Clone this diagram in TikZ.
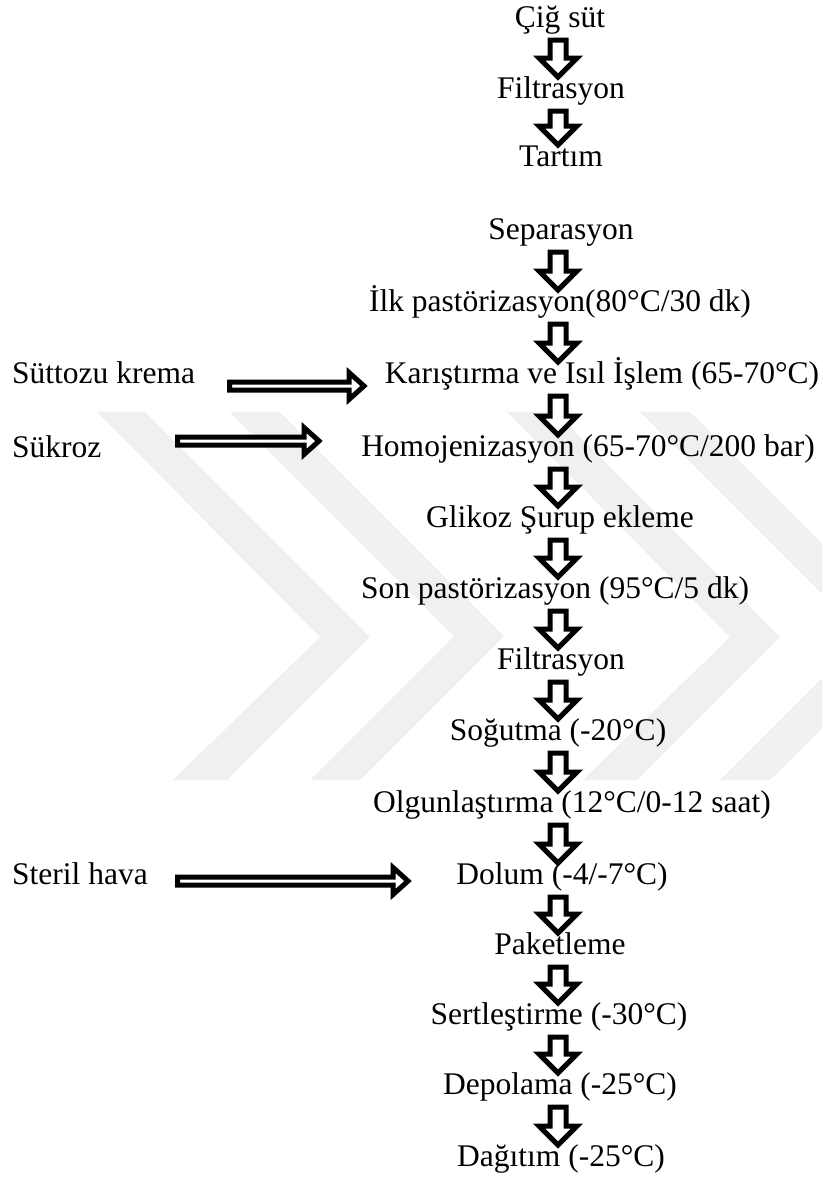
\documentclass[tikz,border=0pt]{standalone}
\usepackage{fontspec}
\setmainfont{Liberation Serif}
\usepackage{tikz}
\usetikzlibrary{calc, positioning}

\definecolor{wmark}{RGB}{240,240,240}

\tikzset{
  proc/.style={anchor=base, inner sep=0pt, font=\fontsize{31.5}{36}\selectfont},
  inp/.style={anchor=base west, inner sep=0pt, font=\fontsize{31.5}{36}\selectfont},
  % blok ok (asagi)
  downarr/.style={draw=black, fill=white, line width=5pt, line join=miter,
    to path={let \p1=(\tikztostart.base), \p2=(\tikztotarget.base), \p3=(axis) in
      (\x3-8pt,\y1-13pt) -- (\x3+8pt,\y1-13pt) -- (\x3+8pt,\y2+40pt)
      -- (\x3+19pt,\y2+40pt) -- (\x3,\y2+21pt) -- (\x3-19pt,\y2+40pt)
      -- (\x3-8pt,\y2+40pt) -- cycle}},
  % cift cizgili ok (saga)
  sidearr/.style={draw=black, fill=white, line width=5pt, line join=miter,
    to path={let \p1=(\tikztostart), \p2=(\tikztotarget) in
      (\x1,\y1+4pt) -- (\x2-15pt,\y1+4pt) -- (\x2-15pt,\y1+13.5pt) -- (\x2,\y1)
      -- (\x2-15pt,\y1-13.5pt) -- (\x2-15pt,\y1-4pt) -- (\x1,\y1-4pt) -- cycle}}
}

\begin{document}
\begin{tikzpicture}[x=1pt, y=-1pt]
    \useasboundingbox (0,0) rectangle (822,1178);

    % 1. Arka plan filigrani
    \begin{scope}
    \clip (0,0) rectangle (822,1178);
    \fill[wmark] (97,412) -- (145,412) -- (370,637) -- (227,780) -- (173,780) -- (320,637) -- cycle;
    \fill[wmark] (230,412) -- (280,412) -- (504,636) -- (360,780) -- (310,780) -- (454,636) -- cycle;
    \fill[wmark] (507,412) -- (555,412) -- (780,637) -- (637,780) -- (583,780) -- (730,637) -- cycle;
    \fill[wmark] (640,412) -- (690,412) -- (914,636) -- (770,780) -- (720,780) -- (864,636) -- cycle;
    \end{scope}

    % 2. Ana akis adimlari
    \coordinate (axis) at (558,0);
    \node[proc] (cig)   at (560,27)   {Çiğ süt};
    \node[proc] (filt1) at (561,98)   {Filtrasyon};
    \node[proc] (tart)  at (561,166)  {Tartım};
    \node[proc] (sep)   at (561,239)  {Separasyon};
    \node[proc] (ilk)   at (560,311)  {İlk pastörizasyon(80°C/30 dk)};
    \node[proc] (karis) at (602,383)  {Karıştırma ve Isıl İşlem (65-70°C)};
    \node[proc] (homo)  at (588,456)  {Homojenizasyon (65-70°C/200 bar)};
    \node[proc] (glik)  at (560,527)  {Glikoz Şurup ekleme};
    \node[proc] (son)   at (555,598)  {Son pastörizasyon (95°C/5 dk)};
    \node[proc] (filt2) at (561,669)  {Filtrasyon};
    \node[proc] (sog)   at (558,740)  {Soğutma (-20°C)};
    \node[proc] (olg)   at (572,812)  {Olgunlaştırma (12°C/0-12 saat)};
    \node[proc] (dol)   at (562,884)  {Dolum (-4/-7°C)};
    \node[proc] (pak)   at (560,954)  {Paketleme};
    \node[proc] (sert)  at (559,1024) {Sertleştirme (-30°C)};
    \node[proc] (depo)  at (560,1094) {Depolama (-25°C)};
    \node[proc] (dag)   at (561,1166) {Dağıtım (-25°C)};

    % 3. Eklenen maddeler
    \node[inp] (krema)  at (12,383) {Süttozu krema};
    \node[inp] (sukroz) at (12,457) {Sükroz};
    \node[inp] (hava)   at (12,884) {Steril hava};

    % 4. Asagi oklar
    \draw[downarr] (cig) to (filt1);
    \draw[downarr] (filt1) to (tart);
    \draw[downarr] (sep) to (ilk);
    \draw[downarr] (ilk) to (karis);
    \draw[downarr] (karis) to (homo);
    \draw[downarr] (homo) to (glik);
    \draw[downarr] (glik) to (son);
    \draw[downarr] (son) to (filt2);
    \draw[downarr] (filt2) to (sog);
    \draw[downarr] (sog) to (olg);
    \draw[downarr] (olg) to (dol);
    \draw[downarr] (dol) to (pak);
    \draw[downarr] (pak) to (sert);
    \draw[downarr] (sert) to (depo);
    \draw[downarr] (depo) to (dag);

    % 5. Yan oklar
    \coordinate (k1) at (229.5,386);
    \coordinate (k2) at (364,386);
    \coordinate (s1) at (177.5,441);
    \coordinate (s2) at (319,441);
    \coordinate (h1) at (177.5,881);
    \coordinate (h2) at (408,881);
    \draw[sidearr] (k1) to (k2);
    \draw[sidearr] (s1) to (s2);
    \draw[sidearr] (h1) to (h2);

\end{tikzpicture}
\end{document}
